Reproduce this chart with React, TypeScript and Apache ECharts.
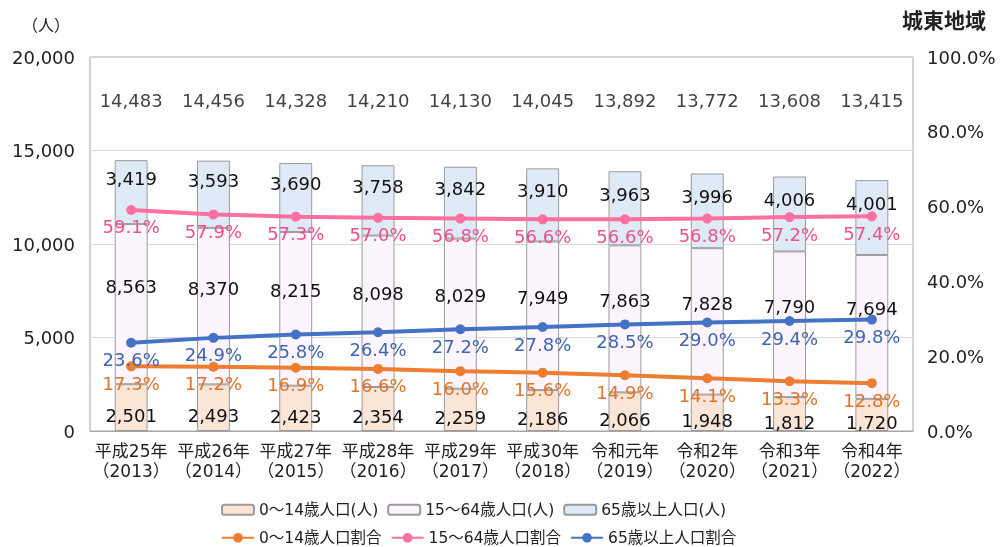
import React, { useEffect, useRef } from "react";
import * as echarts from "echarts";

const categories = [
  "平成25年\n（2013）", "平成26年\n（2014）", "平成27年\n（2015）", "平成28年\n（2016）", "平成29年\n（2017）",
  "平成30年\n（2018）", "令和元年\n（2019）", "令和2年\n（2020）", "令和3年\n（2021）", "令和4年\n（2022）",
];
const pop0to14 = [2501, 2493, 2423, 2354, 2259, 2186, 2066, 1948, 1812, 1720];
const pop15to64 = [8563, 8370, 8215, 8098, 8029, 7949, 7863, 7828, 7790, 7694];
const pop65plus = [3419, 3593, 3690, 3758, 3842, 3910, 3963, 3996, 4006, 4001];
const totals = [14483, 14456, 14328, 14210, 14130, 14045, 13892, 13772, 13608, 13415];
const rate0to14 = [17.3, 17.2, 16.9, 16.6, 16.0, 15.6, 14.9, 14.1, 13.3, 12.8];
const rate15to64 = [59.1, 57.9, 57.3, 57.0, 56.8, 56.6, 56.6, 56.8, 57.2, 57.4];
const rate65plus = [23.6, 24.9, 25.8, 26.4, 27.2, 27.8, 28.5, 29.0, 29.4, 29.8];
const totalLabelLevel = 17650;

const FONT = "'DejaVu Sans', 'Noto Sans CJK JP', sans-serif";
const CJK = "'Noto Sans CJK JP', sans-serif";
const fmt = (v: number) => v.toLocaleString("en-US");

export default function App() {
  const ref = useRef<HTMLDivElement>(null);
  useEffect(() => {
    if (!ref.current) return;
    const chart = echarts.init(ref.current, undefined, { renderer: "svg" });
    const barBorder = { borderColor: "#9a9a9a", borderWidth: 1 };
    const barLabel = (dy: number) => ({
      show: true,
      position: "inside" as const,
      offset: [0, dy],
      color: "#111",
      fontSize: 18,
      fontFamily: FONT,
      formatter: (p: any) => fmt(p.value),
    });
    const lineLabel = (color: string) => ({
      show: true,
      position: "bottom" as const,
      distance: 3,
      color,
      fontSize: 18,
      fontFamily: FONT,
      formatter: (p: any) => p.value.toFixed(1) + "%",
    });
    chart.setOption({
      animation: false,
      textStyle: { fontFamily: FONT },
      grid: {
        left: 90, right: 87, top: 57, bottom: 116,
        show: true, borderColor: "#a6a6a6", borderWidth: 1,
      },
      graphic: [
        { type: "text", left: 22, top: 16, style: { text: "（人）", fontSize: 16, fill: "#222", fontFamily: CJK } },
        { type: "text", right: 14, top: 8, style: { text: "城東地域", fontSize: 21, fontWeight: "bold", fill: "#222", fontFamily: CJK } },
      ],
      legend: [
        {
          top: 497, left: 216, itemWidth: 32, itemHeight: 10, itemGap: 9,
          textStyle: { fontSize: 15.5, color: "#222", fontFamily: FONT },
          data: ["0～14歳人口(人)", "15～64歳人口(人)", "65歳以上人口(人)"],
        },
        {
          top: 525, left: 216, itemWidth: 32, itemHeight: 12, itemGap: 9,
          textStyle: { fontSize: 15.5, color: "#222", fontFamily: FONT },
          data: ["0～14歳人口割合", "15～64歳人口割合", "65歳以上人口割合"],
        },
      ],
      xAxis: {
        type: "category",
        data: categories,
        axisTick: { show: false },
        axisLine: { lineStyle: { color: "#a6a6a6" } },
        axisLabel: { fontSize: 17, color: "#222", lineHeight: 20, margin: 10, interval: 0, fontFamily: FONT },
      },
      yAxis: [
        {
          type: "value", min: 0, max: 20000, interval: 5000,
          axisLabel: { fontSize: 18, color: "#222", margin: 15, formatter: (v: number) => fmt(v), fontFamily: FONT },
          splitLine: { lineStyle: { color: "#d9d9d9" } },
          axisLine: { show: false }, axisTick: { show: false },
        },
        {
          type: "value", min: 0, max: 100, interval: 20,
          axisLabel: { fontSize: 18, color: "#222", margin: 14, formatter: (v: number) => v.toFixed(1) + "%", fontFamily: FONT },
          splitLine: { show: false },
          axisLine: { show: false }, axisTick: { show: false },
        },
      ],
      series: [
        {
          name: "0～14歳人口(人)", type: "bar", stack: "pop", barWidth: "40%",
          data: pop0to14, itemStyle: { color: "#fbe5d6", ...barBorder }, label: barLabel(8),
        },
        {
          name: "15～64歳人口(人)", type: "bar", stack: "pop",
          data: pop15to64, itemStyle: { color: "#fdf5fe", ...barBorder }, label: barLabel(-18),
        },
        {
          name: "65歳以上人口(人)", type: "bar", stack: "pop",
          data: pop65plus, itemStyle: { color: "#deebf7", ...barBorder }, label: barLabel(-14),
        },
        {
          name: "total", type: "scatter", symbolSize: 0, silent: true,
          data: totals.map(() => totalLabelLevel),
          label: {
            show: true, position: "inside", color: "#111", fontSize: 18, fontFamily: FONT,
            formatter: (p: any) => fmt(totals[p.dataIndex]),
          },
        },
        {
          name: "0～14歳人口割合", type: "line", yAxisIndex: 1, data: rate0to14,
          symbol: "circle", symbolSize: 10,
          lineStyle: { color: "#ed7d31", width: 4 }, itemStyle: { color: "#ed7d31" },
          label: lineLabel("#e0742a"),
        },
        {
          name: "15～64歳人口割合", type: "line", yAxisIndex: 1, data: rate15to64,
          symbol: "circle", symbolSize: 10,
          lineStyle: { color: "#ff6f9f", width: 4 }, itemStyle: { color: "#ff6f9f" },
          label: lineLabel("#f0508a"),
        },
        {
          name: "65歳以上人口割合", type: "line", yAxisIndex: 1, data: rate65plus,
          symbol: "circle", symbolSize: 10,
          lineStyle: { color: "#4472c4", width: 4 }, itemStyle: { color: "#4472c4" },
          label: lineLabel("#3f66ad"),
        },
      ],
    });
    return () => chart.dispose();
  }, []);
  return <div ref={ref} style={{ position: "fixed", left: 0, top: 0, width: 1000, height: 547 }} />;
}
